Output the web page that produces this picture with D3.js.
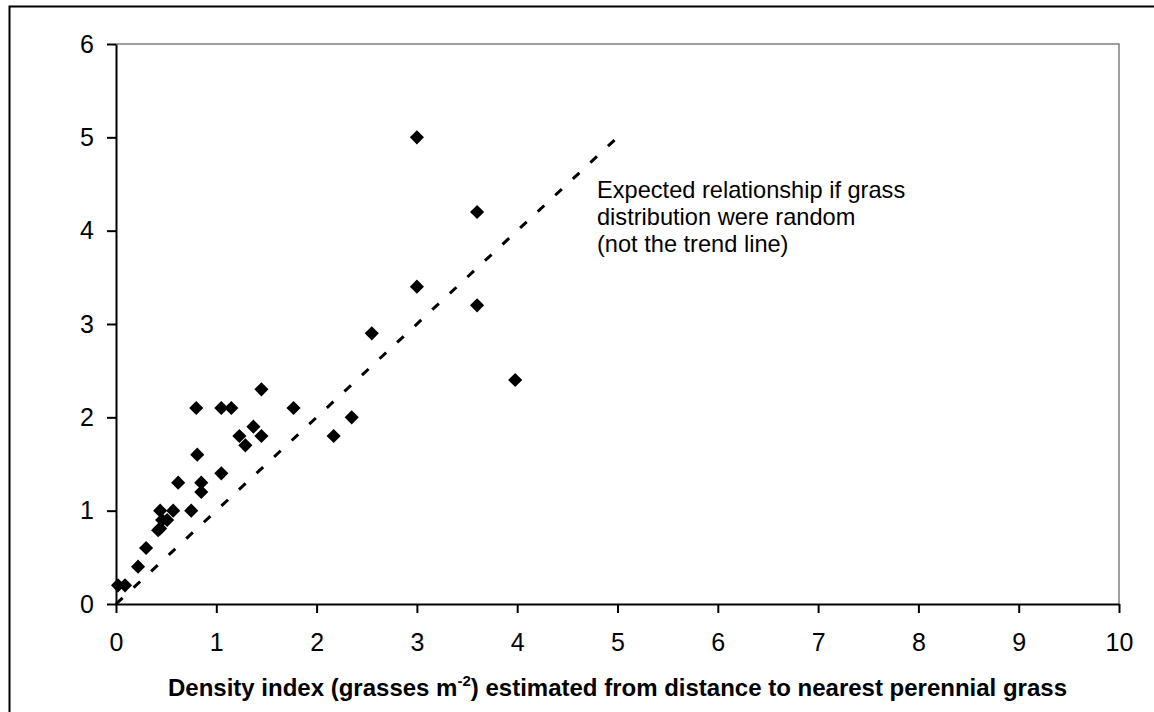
<!DOCTYPE html>
<html>
<head>
<meta charset="utf-8">
<script src="https://cdn.jsdelivr.net/npm/d3@7/dist/d3.min.js"></script>
<style>
  html, body { margin: 0; padding: 0; background: #fff; }
  svg { display: block; }
  text { font-family: "Liberation Sans", Arial, sans-serif; }
</style>
</head>
<body>
<svg id="chart" width="1154" height="712"></svg>
<script>
// ---- data ----
const xValues = [0.02, 0.09, 0.22, 0.30, 0.42, 0.44, 0.44, 0.46, 0.51, 0.57, 0.62, 0.75, 0.80, 0.81, 0.85, 0.85,
                 1.05, 1.15, 1.05, 1.23, 1.29, 1.37, 1.45, 1.45, 1.77, 2.17, 2.35, 2.55, 3.00, 3.60, 3.00, 3.60, 3.98];
const yValues = [0.2, 0.2, 0.4, 0.6, 0.79, 0.81, 1.0, 0.9, 0.9, 1.0, 1.3, 1.0, 2.1, 1.6, 1.3, 1.2,
                 2.1, 2.1, 1.4, 1.8, 1.7, 1.9, 1.8, 2.3, 2.1, 1.8, 2.0, 2.9, 5.0, 4.2, 3.4, 3.2, 2.4];
const expectedX = [0, 5];
const expectedY = [0, 5];
const xTicks = [0, 1, 2, 3, 4, 5, 6, 7, 8, 9, 10];
const yTicks = [0, 1, 2, 3, 4, 5, 6];
const noteLines = ["Expected relationship if grass", "distribution were random", "(not the trend line)"];
const xTitleMain = "Density index (grasses m";
const xTitleSup = "-2";
const xTitleEnd = ") estimated from distance to nearest perennial grass";

// ---- layout ----
const svg = d3.select("#chart");
const x = d3.scaleLinear().domain([0, 10]).range([116, 1119]);
const y = d3.scaleLinear().domain([0, 6]).range([604, 44]);

// outer frame (top and left visible)
svg.append("path")
  .attr("d", "M9.5,712 L9.5,6.5 L1154,6.5")
  .attr("fill", "none").attr("stroke", "#000").attr("stroke-width", 2);

// plot area border (grey top & right)
svg.append("path")
  .attr("d", `M${x(0)},${y(6)} L${x(10)},${y(6)} L${x(10)},${y(0)}`)
  .attr("fill", "none").attr("stroke", "#808080").attr("stroke-width", 1.5);

// axes
const xAxis = d3.axisBottom(x).tickValues(xTicks).tickSize(9).tickSizeOuter(0).tickPadding(20).tickFormat(d3.format("d"));
const yAxis = d3.axisLeft(y).tickValues(yTicks).tickSize(9).tickSizeOuter(0).tickPadding(13).tickFormat(d3.format("d"));

const gx = svg.append("g").attr("transform", `translate(0,${y(0)})`).call(xAxis);
const gy = svg.append("g").attr("transform", `translate(${x(0)},0)`).call(yAxis);
[gx, gy].forEach(g => {
  g.selectAll("path, line").attr("stroke", "#000").attr("stroke-width", 2);
  g.selectAll("text").attr("font-size", 25).attr("fill", "#000")
    .style("font-family", "'Liberation Sans', Arial, sans-serif");
});

// expected relationship dashed line
const line = d3.line().x(d => x(d[0])).y(d => y(d[1]));
svg.append("path")
  .datum(d3.zip(expectedX, expectedY))
  .attr("d", line)
  .attr("fill", "none").attr("stroke", "#000")
  .attr("stroke-width", 3).attr("stroke-dasharray", "9,15");

// points (diamonds)
const sym = d3.symbol().type(d3.symbolSquare).size(100);
svg.append("g").selectAll("path")
  .data(d3.zip(xValues, yValues))
  .join("path")
  .attr("d", sym)
  .attr("transform", d => `translate(${x(d[0])},${y(d[1])}) rotate(45)`)
  .attr("fill", "#000");

// annotation
const note = svg.append("text").attr("x", 597).attr("y", 198)
  .attr("font-size", 23.6).attr("fill", "#000");
noteLines.forEach((t, i) => {
  note.append("tspan").attr("x", 597).attr("y", 198 + i * 27).text(t);
});

// x axis title
const title = svg.append("text")
  .attr("x", (x(0) + x(10)) / 2).attr("y", 696)
  .attr("text-anchor", "middle")
  .attr("font-size", 24).attr("font-weight", "bold").attr("fill", "#000");
title.append("tspan").text(xTitleMain);
title.append("tspan").attr("font-size", 15).attr("dy", -10).text(xTitleSup);
title.append("tspan").attr("dy", 10).text(xTitleEnd);
</script>
</body>
</html>
